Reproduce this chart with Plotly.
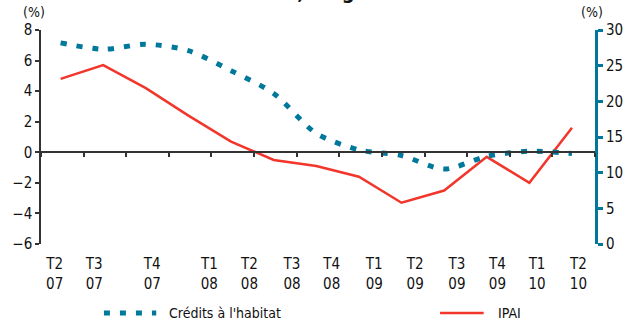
import plotly.graph_objects as go

# Quarterly categories (T2 2007 -> T2 2010)
quarters = ["T2<br>07", "T3<br>07", "T4<br>07", "T1<br>08", "T2<br>08", "T3<br>08", "T4<br>08",
            "T1<br>09", "T2<br>09", "T3<br>09", "T4<br>09", "T1<br>10", "T2<br>10"]

# Year-on-year change, %
credits_habitat = [28.2, 27.3, 28.0, 27.1, 24.3, 21.1, 15.5, 13.2, 12.4, 10.5, 12.3, 13.0, 12.7]  # right axis
ipai = [4.8, 5.7, 4.2, 2.4, 0.7, -0.5, -0.9, -1.6, -3.3, -2.5, -0.3, -2.0, 1.6]                    # left axis

left_ticks = [-6, -4, -2, 0, 2, 4, 6, 8]
right_ticks = [0, 5, 10, 15, 20, 25, 30]

# where the quarter labels sit along the category axis
label_pos = [-0.14, 0.79, 2.15, 3.49, 4.43, 5.43, 6.36, 7.36, 8.32, 9.30, 10.25, 11.18, 12.15]

TEAL = "#00789b"
RED = "#f2362b"
AXIS = "#333333"
FONT = "Liberation Sans Narrow, DejaVu Sans Condensed, Arial Narrow, sans-serif"
DASH = "6px,10px"

idx = list(range(len(quarters)))
x_range = [-0.46, len(quarters) - 0.46]

fig = go.Figure()
fig.add_trace(go.Scatter(
    x=idx, y=credits_habitat, name="Crédits à l'habitat", xaxis="x", yaxis="y2",
    mode="lines", line=dict(color=TEAL, width=5, dash=DASH, shape="spline", smoothing=0.8),
    showlegend=False))
fig.add_trace(go.Scatter(
    x=idx, y=ipai, name="IPAI", xaxis="x", yaxis="y",
    mode="lines", line=dict(color=RED, width=2.5), showlegend=False))
# empty trace so the label axis along the bottom gets built
fig.add_trace(go.Scatter(x=[], y=[], xaxis="x2", yaxis="y", showlegend=False, hoverinfo="skip"))

fig.update_layout(
    width=635, height=324,
    margin=dict(l=33, r=30, t=29.5, b=80),
    paper_bgcolor="white", plot_bgcolor="white",
    font=dict(family=FONT, size=15, color="#111111"),
    # category axis crossing the left scale at zero
    xaxis=dict(range=x_range, anchor="free", position=6 / 14,
               showline=True, linecolor=AXIS, linewidth=1.5,
               ticks="outside", ticklen=4, tickwidth=1.5, tickcolor=AXIS,
               tickmode="linear", tick0=x_range[0], dtick=1,
               showticklabels=False, showgrid=False, zeroline=False),
    # quarter labels along the bottom
    xaxis2=dict(range=x_range, overlaying="x", anchor="y", side="bottom",
                showline=False, showgrid=False, zeroline=False,
                tickmode="array", tickvals=label_pos, ticktext=quarters,
                ticks="outside", ticklen=6, tickcolor="rgba(0,0,0,0)",
                tickfont=dict(size=15)),
    yaxis=dict(range=[-6, 8], tickvals=left_ticks,
               showline=True, linecolor=AXIS, linewidth=1.5,
               ticks="outside", ticklen=4, tickwidth=1.5, tickcolor=AXIS,
               showgrid=False, zeroline=False, tickfont=dict(size=15)),
    yaxis2=dict(range=[0, 30], tickvals=right_ticks, overlaying="y", side="right", anchor="x",
                showline=True, linecolor=TEAL, linewidth=3,
                ticks="outside", ticklen=5, tickwidth=3, tickcolor=TEAL,
                showgrid=False, zeroline=False, tickfont=dict(size=15)),
)

# chart title, running off the top edge of the page
fig.add_annotation(x=0.0, y=1.111, xref="paper", yref="paper",
                   text="<b>Crédits à l'habitat et IPAI, en glissement annuel</b>",
                   showarrow=False, font=dict(size=20, color="#111111"),
                   xanchor="left", yanchor="bottom")

# unit labels above both value axes
fig.add_annotation(x=-0.012, y=1.085, xref="paper", yref="paper", text="(%)",
                   showarrow=False, font=dict(size=14), xanchor="center", yanchor="middle")
fig.add_annotation(x=0.995, y=1.085, xref="paper", yref="paper", text="(%)",
                   showarrow=False, font=dict(size=14), xanchor="center", yanchor="middle")

# legend keys below the chart
leg_y = -0.322
fig.add_shape(type="line", xref="paper", yref="paper", x0=0.1136, x1=0.208, y0=leg_y, y1=leg_y,
              line=dict(color=TEAL, width=5, dash=DASH))
fig.add_annotation(x=0.2273, y=leg_y, xref="paper", yref="paper", text="Crédits à l'habitat",
                   showarrow=False, font=dict(size=14), xanchor="left", yanchor="middle")
fig.add_shape(type="line", xref="paper", yref="paper", x0=0.7203, x1=0.799, y0=leg_y, y1=leg_y,
              line=dict(color=RED, width=2.5))
fig.add_annotation(x=0.8217, y=leg_y, xref="paper", yref="paper", text="IPAI",
                   showarrow=False, font=dict(size=14), xanchor="left", yanchor="middle")

fig.write_html("out.html")
